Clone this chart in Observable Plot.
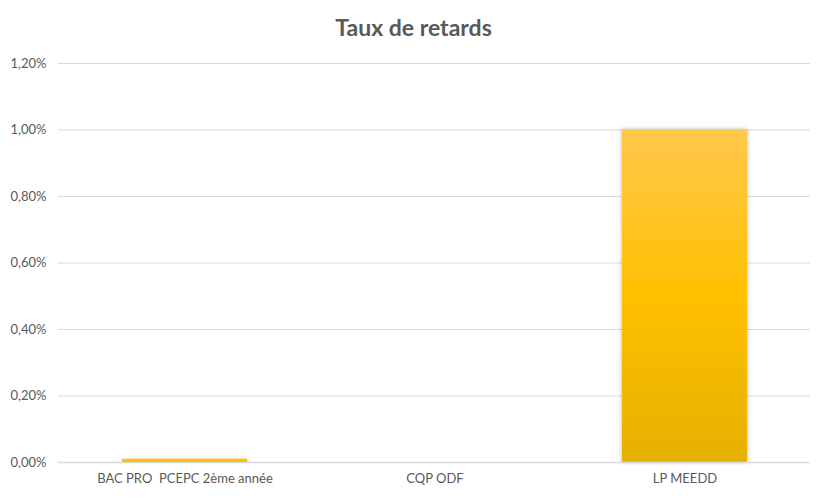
<!DOCTYPE html>
<html><head><meta charset="utf-8">
<script src="https://cdn.jsdelivr.net/npm/d3@7"></script>
<script src="https://cdn.jsdelivr.net/npm/@observablehq/plot@0.6"></script>
<style>
body{margin:0;background:#fff;font-family:Lato,"Open Sans",sans-serif;}
#title{height:50px;line-height:54px;text-align:center;font-size:23px;font-weight:bold;color:#595959;}
</style></head>
<body>
<div id="title">Taux de retards</div>
<div id="chart"></div>
<script>
const categories = ["BAC PRO  PCEPC 2ème année", "CQP ODF", "LP MEEDD"];
const values = [0.0001, 0, 0.01];
const yTicks = [0, 0.002, 0.004, 0.006, 0.008, 0.010, 0.012];

const data = categories.map((c, i) => ({cat: c, v: values[i]}));
const fmt = v => d3.format(".2%")(v).replace(".", ",");

const plot = Plot.plot({
  width: 827, height: 450,
  marginTop: 13, marginBottom: 38, marginLeft: 58, marginRight: 17,
  style: {fontFamily: "Lato, 'Open Sans', sans-serif", fontSize: "13px", color: "#595959", background: "#fff"},
  x: {domain: categories, paddingInner: 0.5, paddingOuter: 0.25, label: null, tickSize: 0, tickPadding: 11},
  y: {domain: [0, 0.012], ticks: yTicks, tickFormat: fmt, label: null, tickSize: 0, tickPadding: 12},
  marks: [
    Plot.gridY(yTicks, {stroke: "#d9d9d9", strokeOpacity: 1}),
    Plot.barY(data, {x: "cat", y: "v", fill: "url(#barGrad)", stroke: "none"}),
    Plot.ruleY([0], {stroke: "#d9d9d9", strokeWidth: 1.5})
  ]
});
const ns = "http://www.w3.org/2000/svg";
const defs = document.createElementNS(ns, "defs");
defs.innerHTML = `<linearGradient id="barGrad" x1="0" y1="0" x2="0" y2="1">
  <stop offset="0" stop-color="#FFC84C"/>
  <stop offset="0.5" stop-color="#FFC000"/>
  <stop offset="1" stop-color="#E5B000"/>
</linearGradient>
<filter id="sh" x="-10%" y="-5%" width="120%" height="110%"><feDropShadow dx="0" dy="0" stdDeviation="2" flood-color="#000" flood-opacity="0.3"/></filter>`;
plot.insertBefore(defs, plot.firstChild);
plot.querySelectorAll("rect").forEach(r => { if (r.getAttribute("fill") === "url(#barGrad)" || r.parentNode.getAttribute("fill") === "url(#barGrad)") r.setAttribute("filter", "url(#sh)"); });
document.getElementById("chart").appendChild(plot);
</script>
</body></html>
